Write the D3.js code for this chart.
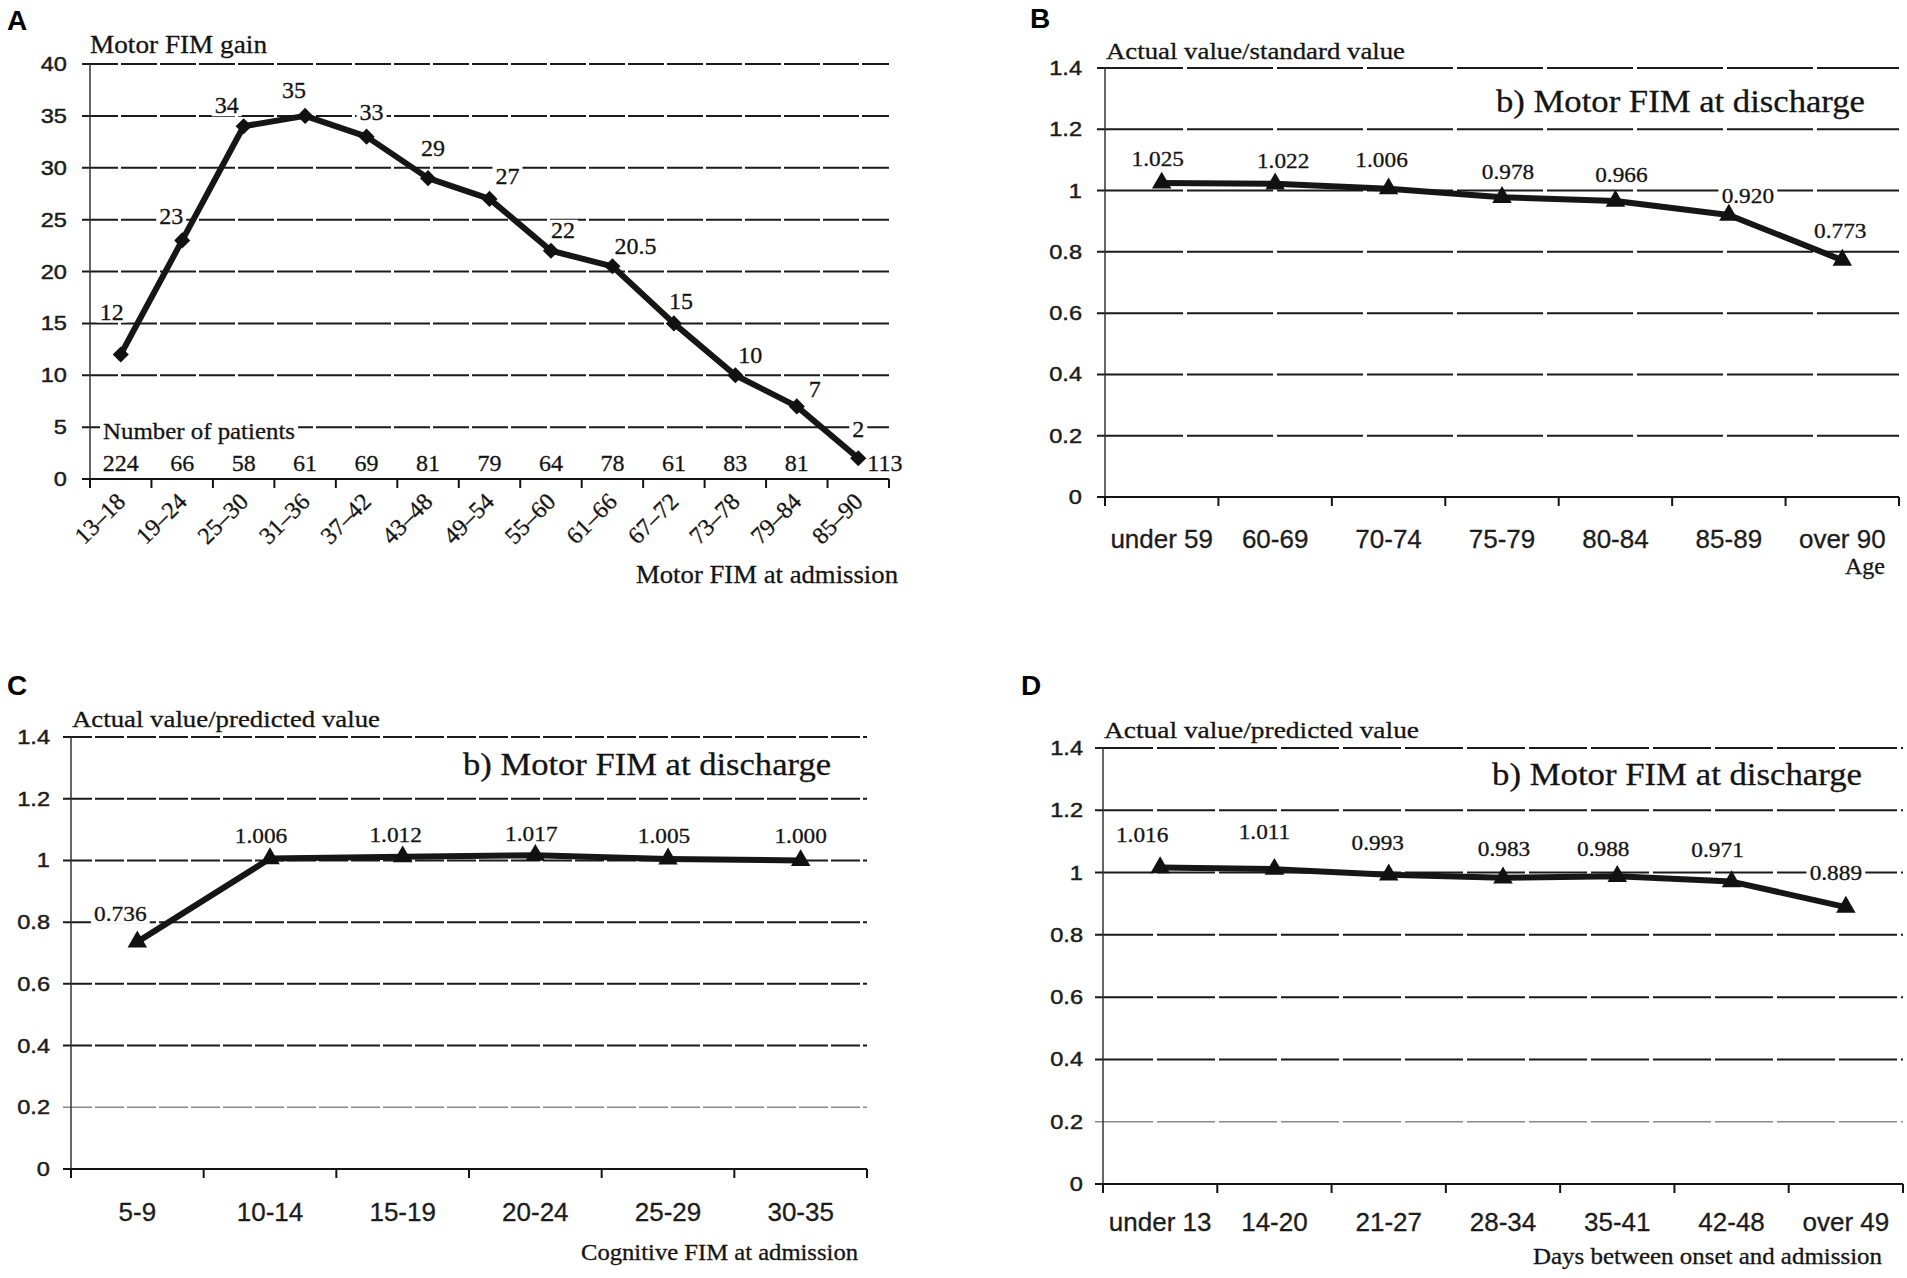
<!DOCTYPE html>
<html>
<head>
<meta charset="utf-8">
<script src="https://cdn.jsdelivr.net/npm/d3@7"></script>
<style>
html,body{margin:0;padding:0;background:#fff;}
svg{display:block;}
</style>
</head>
<body>
<svg id="chart" width="1907" height="1278"></svg>
<script>
// ---------------- DATA ----------------
const catsA = ["13–18","19–24","25–30","31–36","37–42","43–48","49–54","55–60","61–66","67–72","73–78","79–84","85–90"];
const gainA = [12,23,34,35,33,29,27,22,20.5,15,10,7,2];
const patientsA = [224,66,58,61,69,81,79,64,78,61,83,81,113];
const ticksA = [0,5,10,15,20,25,30,35,40];

const catsB = ["under 59","60-69","70-74","75-79","80-84","85-89","over 90"];
const valuesB = [1.025,1.022,1.006,0.978,0.966,0.920,0.773];

const catsC = ["5-9","10-14","15-19","20-24","25-29","30-35"];
const valuesC = [0.736,1.006,1.012,1.017,1.005,1.000];

const catsD = ["under 13","14-20","21-27","28-34","35-41","42-48","over 49"];
const valuesD = [1.016,1.011,0.993,0.983,0.988,0.971,0.889];

const ticksRatio = [0,0.2,0.4,0.6,0.8,1,1.2,1.4];

// label nudges (layout only, relative to each point)
const nudgeA = [[-9,-35],[-11,-16],[-17,-13],[-11,-18],[5,-17],[5,-22],[18,-15],[12,-13],[23,-12],[7,-14],[15,-12],[18,-9],[0,-21]];
const nudgeB = [[-4,-17],[8,-16],[-7,-22],[6,-18],[6,-19],[19,-12],[-2,-22]];
const nudgeC = [[-17,-21],[-9,-16],[-7,-15],[-4,-14],[-4,-16],[0,-17]];
const nudgeD = [[-18,-26],[-10,-30],[-11,-25],[1,-22],[-14,-20],[-14,-25],[-10,-27]];

// ---------------- STYLE ----------------
const SERIF = "'Liberation Serif','Times New Roman',serif";
const SANS = "'Liberation Sans',Arial,sans-serif";
const INK = "#141414";

const svg = d3.select("#chart");

function label(parent, x, y, str, o) {
  const g = parent.append("g").attr("transform", `translate(${x},${y}) scale(${o.sx||1},1)`);
  const t = g.append("text")
    .attr("text-anchor", o.anchor || "middle")
    .style("font-family", o.font || SERIF)
    .style("font-size", o.size + "px")
    .style("font-weight", o.weight || "normal")
    .style("fill", o.fill || INK)
    .text(str);
  const sw = o.stroke === undefined ? 0.3 : o.stroke;
  if (sw > 0) t.style("stroke", o.fill || INK).style("stroke-width", sw);
  if (o.width) t.attr("textLength", o.width / (o.sx||1)).attr("lengthAdjust", "spacingAndGlyphs");
  if (o.bg) {
    const b = t.node().getBBox();
    g.insert("rect", "text").attr("x", b.x - 3).attr("y", b.y + 3)
      .attr("width", b.width + 6).attr("height", b.height - 5).attr("fill", "#fff");
  }
  return t;
}

function panel(cfg) {
  const g = svg.append("g");
  const x = d3.scaleBand().domain(cfg.cats).range([cfg.x0, cfg.x1]).paddingInner(0).paddingOuter(0);
  const y = d3.scaleLinear().domain([0, d3.max(cfg.ticks)]).range([cfg.yb, cfg.yt]);
  const bw = x.bandwidth();
  const cx = c => x(c) + bw / 2;
  const bounds = cfg.cats.map(c => x(c)).concat([cfg.x1]);

  // gridlines
  g.selectAll("line.grid").data(cfg.ticks.filter(t => t > 0)).join("line")
    .attr("class", "grid")
    .attr("x1", cfg.x0 - 8).attr("x2", cfg.x1)
    .attr("y1", d => y(d)).attr("y2", d => y(d))
    .attr("stroke", d => (cfg.lightLow && d === cfg.ticks[1]) ? "#8a8a8a" : "#1a1a1a")
    .attr("stroke-width", d => (cfg.lightLow && d === cfg.ticks[1]) ? 1.4 : 2)
    .attr("stroke-dasharray", cfg.dash);

  // y axis line
  g.append("line").attr("x1", cfg.x0).attr("x2", cfg.x0)
    .attr("y1", y(d3.max(cfg.ticks))).attr("y2", y(0) + 9)
    .attr("stroke", "#333").attr("stroke-width", 1.5);

  // x axis line + ticks
  g.append("line").attr("x1", cfg.x0 - 8).attr("x2", cfg.x1)
    .attr("y1", y(0)).attr("y2", y(0)).attr("stroke", INK).attr("stroke-width", 2.2);
  g.selectAll("line.xt").data(bounds).join("line").attr("class", "xt")
    .attr("x1", d => d).attr("x2", d => d).attr("y1", y(0)).attr("y2", y(0) + 9)
    .attr("stroke", INK).attr("stroke-width", 2);

  // y tick labels
  cfg.ticks.forEach(t => {
    label(g, cfg.x0 - cfg.ylOff, y(t) + 7, String(t),
      { font: SANS, size: 20, anchor: "end", sx: 1.18, stroke: 0.45, fill: "#1c1c1c" });
  });

  // x tick labels
  cfg.cats.forEach(c => {
    if (cfg.rotate) {
      g.append("text")
        .attr("transform", `translate(${cx(c) + 6},${y(0) + 24}) rotate(-45)`)
        .attr("text-anchor", "end")
        .style("font-family", SERIF).style("font-size", "24px").style("fill", INK)
        .style("stroke", INK).style("stroke-width", 0.3)
        .text(c);
    } else {
      label(g, cx(c), y(0) + cfg.xlOff, c, { font: SANS, size: 26, fill: "#1c1c1c", stroke: 0.3 });
    }
  });

  // data labels with white background
  const fmt = cfg.fmt;
  cfg.values.forEach((v, i) => {
    const c = cfg.cats[i];
    label(g, cx(c) + cfg.nudge[i][0], y(v) + cfg.nudge[i][1], fmt(v),
      { font: SERIF, size: cfg.dlSize, sx: cfg.dlSx, bg: true });
  });

  // line + markers
  const line = d3.line().x((d, i) => cx(cfg.cats[i])).y(d => y(d));
  g.append("path").datum(cfg.values).attr("d", line)
    .attr("fill", "none").attr("stroke", "#161616").attr("stroke-width", 6)
    .attr("stroke-linejoin", "round");
  const sym = cfg.marker === "diamond"
    ? d3.symbol(d3.symbolSquare, 130)
    : d3.symbol(d3.symbolTriangle, 165);
  g.selectAll("path.mk").data(cfg.values).join("path").attr("class", "mk")
    .attr("d", sym)
    .attr("transform", (d, i) => `translate(${cx(cfg.cats[i])},${y(d)})` + (cfg.marker === "diamond" ? " rotate(45)" : ""))
    .attr("fill", "#111");

  return { g, x, y, cx };
}

// ---------------- PANEL A ----------------
const A = panel({
  cats: catsA, values: gainA, ticks: ticksA,
  x0: 90, x1: 889, yt: 64, yb: 479, dash: "36,3",
  ylOff: 23, rotate: true, nudge: nudgeA, fmt: v => String(v),
  dlSize: 24, dlSx: 1.0, marker: "diamond"
});
label(svg, 7, 30, "A", { font: SANS, size: 28, weight: "bold", anchor: "start", fill: "#000", stroke: 0 });
label(A.g, 90, 53, "Motor FIM gain", { size: 26, anchor: "start", width: 177 });
label(A.g, 103, 439, "Number of patients", { size: 23, anchor: "start", width: 192, bg: true });
patientsA.forEach((n, i) => {
  const c = catsA[i];
  const last = i === patientsA.length - 1;
  label(A.g, A.cx(c) + (last ? 9 : 0), 471, String(n),
    { size: 24, anchor: last ? "start" : "middle" });
});
label(A.g, 898, 583, "Motor FIM at admission", { size: 26, anchor: "end", width: 262 });

// ---------------- PANEL B ----------------
const fmt3 = d3.format(".3f");
const B = panel({
  cats: catsB, values: valuesB, ticks: ticksRatio,
  x0: 1105, x1: 1899, yt: 68, yb: 497, dash: "86,4",
  ylOff: 23, rotate: false, xlOff: 51, nudge: nudgeB, fmt: fmt3,
  dlSize: 22, dlSx: 1.06, marker: "triangle"
});
label(svg, 1030, 28, "B", { font: SANS, size: 28, weight: "bold", anchor: "start", fill: "#000", stroke: 0 });
label(B.g, 1106, 59, "Actual value/standard value", { size: 24, anchor: "start", width: 299 });
label(B.g, 1496, 112, "b) Motor FIM at discharge", { size: 32, anchor: "start", width: 369 });
label(B.g, 1885, 574, "Age", { size: 24, anchor: "end" });

// ---------------- PANEL C ----------------
const C = panel({
  cats: catsC, values: valuesC, ticks: ticksRatio,
  x0: 71, x1: 867, yt: 737, yb: 1169, dash: "29,3",
  ylOff: 21, rotate: false, xlOff: 52, nudge: nudgeC, fmt: fmt3,
  dlSize: 22, dlSx: 1.06, marker: "triangle", lightLow: true
});
label(svg, 7, 695, "C", { font: SANS, size: 28, weight: "bold", anchor: "start", fill: "#000", stroke: 0 });
label(C.g, 72, 727, "Actual value/predicted value", { size: 24, anchor: "start", width: 308 });
label(C.g, 463, 775, "b) Motor FIM at discharge", { size: 32, anchor: "start", width: 368 });
label(C.g, 581, 1260, "Cognitive FIM at admission", { size: 23, anchor: "start", width: 277 });

// ---------------- PANEL D ----------------
const D = panel({
  cats: catsD, values: valuesD, ticks: ticksRatio,
  x0: 1103, x1: 1903, yt: 748, yb: 1184, dash: "58,4",
  ylOff: 20, rotate: false, xlOff: 47, nudge: nudgeD, fmt: fmt3,
  dlSize: 22, dlSx: 1.06, marker: "triangle", lightLow: true
});
label(svg, 1021, 695, "D", { font: SANS, size: 28, weight: "bold", anchor: "start", fill: "#000", stroke: 0 });
label(D.g, 1104, 738, "Actual value/predicted value", { size: 24, anchor: "start", width: 315 });
label(D.g, 1492, 785, "b) Motor FIM at discharge", { size: 32, anchor: "start", width: 370 });
label(D.g, 1533, 1264, "Days between onset and admission", { size: 23, anchor: "start", width: 349 });
</script>
</body>
</html>
